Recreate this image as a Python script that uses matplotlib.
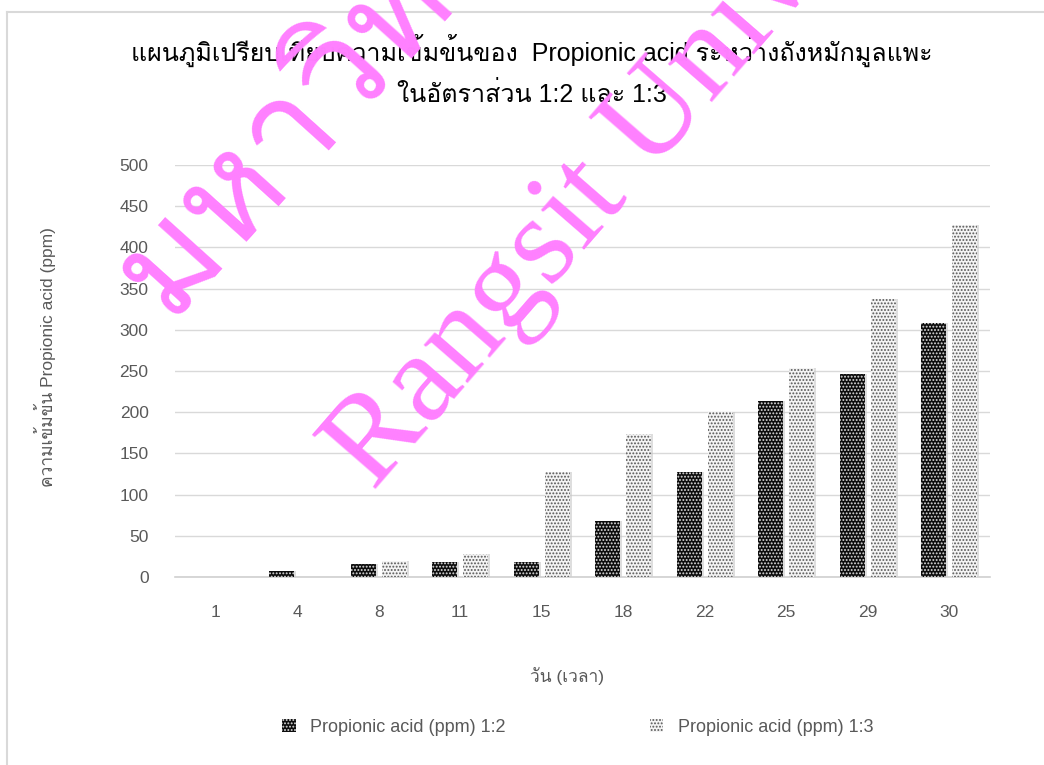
import matplotlib
matplotlib.use('Agg')
import matplotlib.pyplot as plt
from matplotlib import font_manager as fm
from matplotlib.ft2font import FT2Font
from matplotlib.patches import Patch
import numpy as np

# data
days = ['1', '4', '8', '11', '15', '18', '22', '25', '29', '30']
ratio_12 = [0, 7, 16, 18, 18, 68, 128, 213, 246, 308]
ratio_13 = [0, 0, 19, 28, 127, 174, 200, 254, 337, 427]
series_names = ['Propionic acid (ppm) 1:2', 'Propionic acid (ppm) 1:3']
yticks = [0, 50, 100, 150, 200, 250, 300, 350, 400, 450, 500]

title = ('แผนภูมิเปรียบเทียบความเข้มข้นของ  Propionic acid ระหว่างถังหมักมูลแพะ\n'
         'ในอัตราส่วน 1:2 และ 1:3')
xlabel = 'วัน (เวลา)'
ylabel = 'ความเข้มข้น Propionic acid (ppm)'


def find_thai_fonts():
    # families that actually carry Thai glyphs
    found = []
    for f in fm.fontManager.ttflist:
        try:
            cmap = FT2Font(f.fname).get_charmap()
        except Exception:
            continue
        if 0x0E01 in cmap and f.name not in found:
            found.append(f.name)
    return found


thai = find_thai_fonts()
fams = ['Liberation Sans'] + thai + ['DejaVu Sans']
plt.rcParams['font.family'] = fams
plt.rcParams['hatch.linewidth'] = 0.9

fig = plt.figure(figsize=(10.44, 7.65), dpi=100)
ax = fig.add_axes([175 / 1044, 1 - 577 / 765, 815 / 1044, 412 / 765])

x = np.arange(len(days))
w = 0.31
off = 0.19
# soft shadow behind each bar
ax.bar(x - off + 0.025, ratio_12, w, color='#c8c8c8', alpha=0.6, zorder=2)
ax.bar(x + off + 0.025, ratio_13, w, color='#c8c8c8', alpha=0.6, zorder=2)
ax.bar(x - off, ratio_12, w, facecolor='#0d0d0d', edgecolor='#e0e0e0',
       linewidth=0, hatch='.....', zorder=3)
ax.bar(x + off, ratio_13, w, facecolor='#f4f4f4', edgecolor='#555555',
       linewidth=0, hatch='.....', zorder=3)

ax.set_xlim(-0.5, len(days) - 0.5)
ax.set_ylim(0, 500)
ax.set_yticks(yticks)
ax.set_xticks(x)
ax.set_xticklabels(days)
ax.grid(axis='y', color='#d9d9d9', linewidth=1.0, zorder=0)
ax.set_axisbelow(True)
for s in ['top', 'right', 'left']:
    ax.spines[s].set_visible(False)
ax.spines['bottom'].set_color('#d0d0d0')
ax.spines['bottom'].set_linewidth(1.2)
ax.tick_params(length=0, colors='#595959', labelsize=12.5)
ax.tick_params(axis='x', pad=20)
ax.tick_params(axis='y', pad=19)

fig.text(532 / 1044, 1 - 70 / 765, title, ha='center', va='center',
         fontsize=18, color='#000000', linespacing=1.75)
fig.text(45 / 1044, 1 - 357 / 765, ylabel, rotation=90, ha='center',
         va='center', fontsize=12.5, color='#595959')
fig.text(567 / 1044, 1 - 676 / 765, xlabel, ha='center', va='center',
         fontsize=12.5, color='#595959')

handles = [Patch(facecolor='#0d0d0d', edgecolor='#e0e0e0', linewidth=0, hatch='.....'),
           Patch(facecolor='#f4f4f4', edgecolor='#555555', linewidth=0, hatch='.....')]
fig.legend(handles, series_names, loc='center left', ncol=2,
           bbox_to_anchor=(282 / 1044, 1 - 727 / 765), frameon=False,
           borderpad=0, borderaxespad=0,
           fontsize=13, labelcolor='#595959', handlelength=0.75,
           handleheight=0.75, handletextpad=0.8, columnspacing=8.0)

# chart frame edges (only top and left visible in the crop)
fig.add_artist(plt.Line2D([7 / 1044, 7 / 1044], [0, 1 - 12 / 765],
                          color='#d9d9d9', linewidth=1.5))
fig.add_artist(plt.Line2D([7 / 1044, 1], [1 - 12 / 765, 1 - 12 / 765],
                          color='#d9d9d9', linewidth=1.5))

# watermark
fig.text(168 / 1044, 1 - 320 / 765, 'มหาวิทยาลัย', rotation=48,
         rotation_mode='anchor', ha='left', va='baseline', fontsize=100,
         color='#ff80ff', family=thai + ['DejaVu Sans'], zorder=10)
fig.text(374 / 1044, 1 - 492 / 765, 'Rangsit University', rotation=49,
         rotation_mode='anchor', ha='left', va='baseline', fontsize=92,
         color='#ff80ff', family=['Liberation Serif', 'DejaVu Serif'], zorder=10)

fig.savefig('out.png', dpi=100, facecolor='white')
